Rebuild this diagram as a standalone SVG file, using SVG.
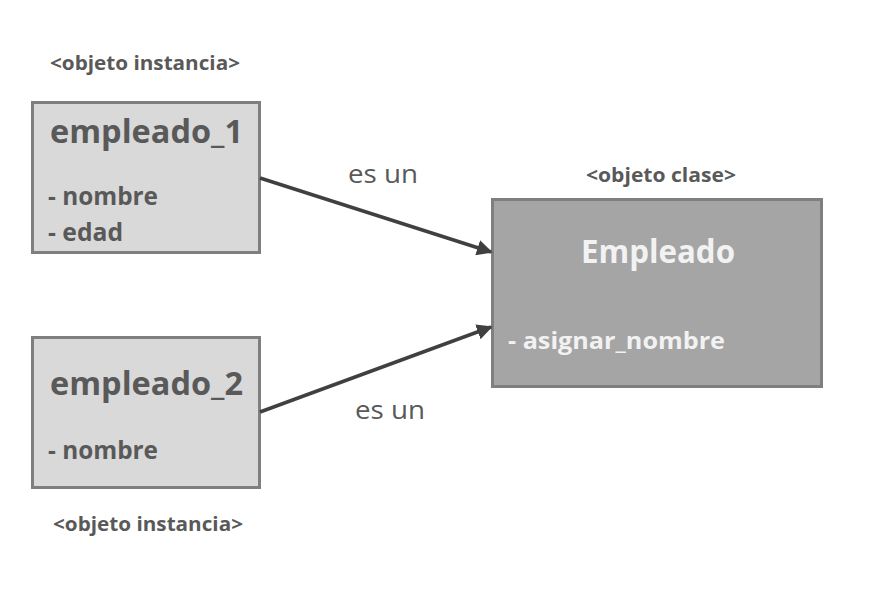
<svg xmlns="http://www.w3.org/2000/svg" width="870" height="591" viewBox="0 0 870 591">
<defs>
<style>
.inst{fill:#d9d9d9;stroke:#7f7f7f;stroke-width:3}
.cls{fill:#a5a5a5;stroke:#7f7f7f;stroke-width:3}
text{font-family:"Open Sans","Liberation Sans",sans-serif}
.t{font-weight:bold;fill:#595959}
.lab{font-weight:bold;fill:#595959;font-size:19px}
.edge{font-size:25px;fill:#595959}
.conn{stroke:#404040;stroke-width:3.5;fill:none;marker-end:url(#ah)}
</style>
<marker id="ah" markerWidth="4.5" markerHeight="4.5" refX="4" refY="2.25" orient="auto" markerUnits="strokeWidth">
<path d="M0,0 L4.5,2.25 L0,4.5 z" fill="#404040"/>
</marker>
</defs>
<rect width="870" height="591" fill="#ffffff"/>
<text class="lab" x="50" y="70" textLength="190" lengthAdjust="spacingAndGlyphs">&lt;objeto instancia&gt;</text>
<text class="lab" x="53" y="531" textLength="190" lengthAdjust="spacingAndGlyphs">&lt;objeto instancia&gt;</text>
<text class="lab" x="586" y="182" textLength="150" lengthAdjust="spacingAndGlyphs">&lt;objeto clase&gt;</text>
<g id="empleado_1">
<rect class="inst" x="32.5" y="102.5" width="227" height="150"/>
<text class="t" x="50" y="143" font-size="33" textLength="193" lengthAdjust="spacingAndGlyphs">empleado_1</text>
<text class="t" x="48" y="205" font-size="25" textLength="110" lengthAdjust="spacingAndGlyphs">- nombre</text>
<text class="t" x="48" y="241" font-size="25" textLength="75" lengthAdjust="spacingAndGlyphs">- edad</text>
</g>
<g id="empleado_2">
<rect class="inst" x="32.5" y="337.5" width="227" height="150"/>
<text class="t" x="50" y="395" font-size="33" textLength="193" lengthAdjust="spacingAndGlyphs">empleado_2</text>
<text class="t" x="48" y="459" font-size="25" textLength="110" lengthAdjust="spacingAndGlyphs">- nombre</text>
</g>
<g id="Empleado">
<rect class="cls" x="492.5" y="199.5" width="329" height="187"/>
<text x="581" y="263" font-size="32" font-weight="bold" fill="#f2f2f2" textLength="154" lengthAdjust="spacingAndGlyphs">Empleado</text>
<text x="508" y="349" font-size="24" font-weight="bold" fill="#f2f2f2" textLength="217" lengthAdjust="spacingAndGlyphs">- asignar_nombre</text>
</g>
<g id="connectors">
<line class="conn" x1="260" y1="178" x2="491" y2="252"/>
<line class="conn" x1="260" y1="412" x2="491" y2="327"/>
<text class="edge" x="348" y="183" textLength="70" lengthAdjust="spacingAndGlyphs">es un</text>
<text class="edge" x="355" y="419" textLength="70" lengthAdjust="spacingAndGlyphs">es un</text>
</g>
</svg>
